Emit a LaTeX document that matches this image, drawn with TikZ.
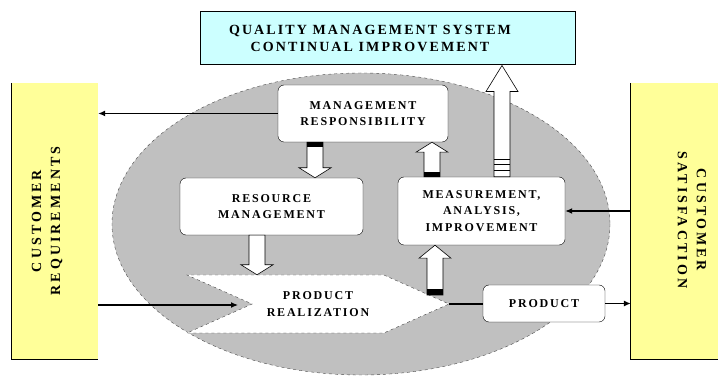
\documentclass[tikz,border=0pt]{standalone}
\usepackage{fontspec}
\setmainfont{Liberation Serif}
\newfontfamily\boxfont[LetterSpace=15]{Liberation Serif}
\newfontfamily\sidefont[LetterSpace=22]{Liberation Serif}
\usetikzlibrary{calc,shapes.symbols,arrows.meta}
\definecolor{qmscyan}{HTML}{CCFFFF}
\definecolor{custyellow}{HTML}{FFFF99}
\definecolor{ovalgray}{HTML}{C0C0C0}
% hollow block arrow: start, tip, head length
\newcommand{\hollowarrow}[3]{%
  \draw[hollow] let \p1=(#1), \p2=(#2), \p3=($(#2)!#3!(#1)$) in
    (\x1-8pt,\y1) -- (\x1-8pt,\y3) -- (\x1-16pt,\y3) -- (\x1,\y2)
    -- (\x1+16pt,\y3) -- (\x1+8pt,\y3) -- (\x1+8pt,\y1) -- cycle;}

\begin{document}
\begin{tikzpicture}[x=1pt,y=-1pt,
  lbl/.style={font=\boxfont\bfseries\fontsize{12}{16.5}\selectfont,align=center,inner sep=0pt},
  sidelbl/.style={font=\sidefont\bfseries\fontsize{14}{19}\selectfont,align=center,inner sep=0pt},
  whitebox/.style={lbl,draw,fill=white,rounded corners=6pt},
  custbox/.style={fill=custyellow,minimum width=86pt,minimum height=276pt,inner sep=0pt},
  hollow/.style={draw,fill=white,line width=.6pt},
  link/.style={line width=1.2pt,-{Latex[length=7pt,width=6pt]}}]
\useasboundingbox (0,0) rectangle (718,379);

% oval and the two customer bars
\filldraw[fill=ovalgray,draw=black!70,dashed] (361,224) ellipse [x radius=249,y radius=151];
\node[custbox] (custreq) at (55,221) {};
\node[custbox,minimum width=87pt] (custsat) at (674.5,221) {};
\draw[line width=.8pt] (custreq.north west) -- (custreq.south west) -- (custreq.south east);
\draw[line width=.8pt] (custsat.north west) -- (custsat.south west) -- (custsat.south east);
\node[sidelbl,rotate=90] (custreqtxt) at (47,221) {CUSTOMER\\REQUIREMENTS};
\node[sidelbl,rotate=-90] (custsattxt) at (692,220) {CUSTOMER\\SATISFACTION};

\node[draw,line width=1pt,fill=qmscyan,minimum width=375pt,minimum height=53pt] (qms) at (387.5,38.5) {};
\node[lbl,font=\boxfont\bfseries\fontsize{14}{17}\selectfont] (qmstxt) at (370,38.5) {QUALITY MANAGEMENT SYSTEM\\CONTINUAL IMPROVEMENT};

% process boxes
\node[whitebox,minimum width=170pt,minimum height=57pt] (mgmt) at (363,113.5) {MANAGEMENT\\RESPONSIBILITY};
\node[whitebox,minimum width=183pt,minimum height=57pt] (resource) at (271.5,206.5) {RESOURCE\\MANAGEMENT};
\node[whitebox,minimum width=167pt,minimum height=68pt] (meas) at (481.5,211) {MEASUREMENT,\\ANALYSIS,\\IMPROVEMENT};
\node[lbl,signal,signal from=west,signal to=east,signal pointer angle=48,draw=black!75,dashed,fill=white,minimum width=262pt,minimum height=58pt] (real) at (318,304) {PRODUCT\\REALIZATION};
\node[whitebox,minimum width=122pt,minimum height=37pt] (product) at (544,303.5) {PRODUCT};
\coordinate (notch) at (238,305);
\coordinate (realout) at (435,295);

% connectors
\draw[link] (mgmt.west) -- (mgmt.west -| custreq.east);
\draw[link] (custreq.east |- notch) -- (notch);
\draw[link] (custsat.west |- meas.east) -- (meas.east);
\draw[line width=1.2pt] (real.east) -- (real.east -| product.west);
\draw[link] (product.east) -- (product.east -| custsat.west);

% block arrows
\hollowarrow{315,0 |- mgmt.south}{315,0 |- resource.north}{10pt}
\fill ($(315,0 |- mgmt.south)+(-8,0)$) rectangle +(16,5);
\hollowarrow{432,0 |- meas.north}{432,0 |- mgmt.south}{10pt}
\fill ($(432,0 |- meas.north)+(-8,0)$) rectangle +(16,-5);
\hollowarrow{502,0 |- meas.north}{502,0 |- qms.south}{26pt}
\draw[line width=.6pt] (494,159) -- (510,159) (494,164) -- (510,164) (494,170) -- (510,170);
\hollowarrow{257,0 |- resource.south}{257,0 |- real.north}{10pt}
\hollowarrow{realout}{435,0 |- meas.south}{13pt}
\fill (427,289) rectangle (443,295);
\end{tikzpicture}
\end{document}
